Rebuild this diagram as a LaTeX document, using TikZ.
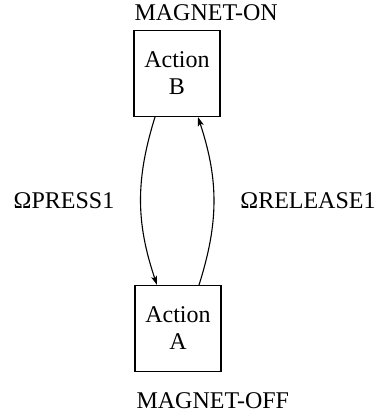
\documentclass[tikz,border=0pt]{standalone}
\usepackage{fontspec}
\setmainfont{Liberation Serif}
\usetikzlibrary{arrows.meta}
\begin{document}
\begin{tikzpicture}[x=1pt, y=1pt, line width=1.1pt, >={Stealth[length=9pt,width=6pt,inset=2pt]},
		state/.style = {draw, rectangle, minimum width=86pt, minimum height=86pt, inner sep=0pt, align=center, font=\fontsize{24}{27}\selectfont},
		txt/.style = {inner sep=0pt, font=\fontsize{24}{27}\selectfont}]
		\useasboundingbox (0,0) rectangle (383,-416);
		
		\node[state] (B) at (177,-73.5) {Action\\B};
		\node[state] (A) at (178,-328.5) {Action\\A};
		
		\node[txt, anchor=base west] (on) at (134,-20) {MAGNET-ON};
		\node[txt, anchor=base west] (off) at (136,-408) {MAGNET-OFF};
		
		\node[txt] (press) at (64,-201) {ΩPRESS1};
		\node[txt] (release) at (308,-201) {ΩRELEASE1};
		
		\draw[->] ([xshift=-22pt]B.south) to[bend right=18] ([xshift=-21pt]A.north);
		\draw[->] ([xshift=21pt]A.north) to[bend right=18] ([xshift=21pt]B.south);
		
	\end{tikzpicture}
\end{document}
